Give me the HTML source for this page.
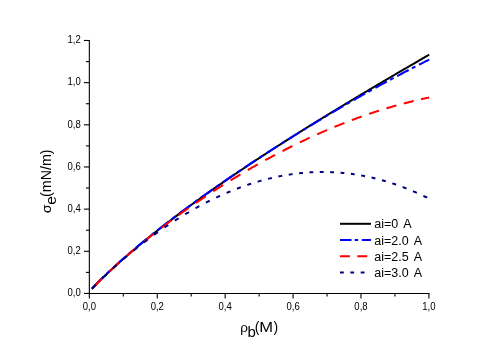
<!DOCTYPE html>
<html><head><meta charset="utf-8"><style>
html,body{margin:0;padding:0;background:#fff;}
svg{display:block;will-change:transform;font-family:"Liberation Sans",sans-serif;}
</style></head><body>
<svg width="498" height="352" viewBox="0 0 498 352">
<rect width="498" height="352" fill="#fff"/>
<g fill="none" stroke-width="2" stroke-linecap="butt" stroke-linejoin="round">
<path d="M92.00,288.73 L93.00,287.66 L94.00,286.62 L94.99,285.58 L95.99,284.55 L96.99,283.54 L97.99,282.53 L98.98,281.53 L99.98,280.53 L100.98,279.55 L101.98,278.57 L102.97,277.60 L103.97,276.63 L104.97,275.67 L105.97,274.72 L106.96,273.77 L107.96,272.82 L108.96,271.89 L109.96,270.95 L110.96,270.02 L111.95,269.10 L112.95,268.18 L113.95,267.27 L114.95,266.35 L115.94,265.45 L116.94,264.55 L117.94,263.65 L118.94,262.75 L119.93,261.86 L120.93,260.97 L121.93,260.09 L122.93,259.21 L123.92,258.33 L124.92,257.46 L125.92,256.59 L126.92,255.73 L127.91,254.86 L128.91,254.00 L129.91,253.14 L130.91,252.29 L131.91,251.44 L132.90,250.59 L133.90,249.75 L134.90,248.90 L135.90,248.07 L136.89,247.23 L137.89,246.39 L138.89,245.56 L139.89,244.73 L140.88,243.91 L141.88,243.09 L142.88,242.26 L143.88,241.45 L144.87,240.63 L145.87,239.82 L146.87,239.01 L147.87,238.20 L148.87,237.39 L149.86,236.59 L150.86,235.78 L151.86,234.98 L152.86,234.19 L153.85,233.39 L154.85,232.60 L155.85,231.81 L156.85,231.02 L157.84,230.23 L158.84,229.45 L159.84,228.66 L160.84,227.88 L161.83,227.10 L162.83,226.33 L163.83,225.55 L164.83,224.78 L165.82,224.01 L166.82,223.24 L167.82,222.47 L168.82,221.70 L169.82,220.94 L170.81,220.18 L171.81,219.42 L172.81,218.66 L173.81,217.90 L174.80,217.15 L175.80,216.39 L176.80,215.64 L177.80,214.89 L178.79,214.14 L179.79,213.40 L180.79,212.65 L181.79,211.91 L182.78,211.17 L183.78,210.42 L184.78,209.69 L185.78,208.95 L186.78,208.21 L187.77,207.48 L188.77,206.74 L189.77,206.01 L190.77,205.28 L191.76,204.55 L192.76,203.83 L193.76,203.10 L194.76,202.38 L195.75,201.66 L196.75,200.93 L197.75,200.21 L198.75,199.49 L199.74,198.78 L200.74,198.06 L201.74,197.35 L202.74,196.63 L203.73,195.92 L204.73,195.21 L205.73,194.50 L206.73,193.79 L207.73,193.08 L208.72,192.38 L209.72,191.67 L210.72,190.97 L211.72,190.27 L212.71,189.57 L213.71,188.87 L214.71,188.17 L215.71,187.47 L216.70,186.78 L217.70,186.08 L218.70,185.39 L219.70,184.69 L220.69,184.00 L221.69,183.31 L222.69,182.62 L223.69,181.93 L224.69,181.25 L225.68,180.56 L226.68,179.88 L227.68,179.19 L228.68,178.51 L229.67,177.83 L230.67,177.14 L231.67,176.46 L232.67,175.79 L233.66,175.11 L234.66,174.43 L235.66,173.76 L236.66,173.08 L237.65,172.41 L238.65,171.73 L239.65,171.06 L240.65,170.39 L241.64,169.72 L242.64,169.05 L243.64,168.38 L244.64,167.72 L245.64,167.05 L246.63,166.38 L247.63,165.72 L248.63,165.05 L249.63,164.39 L250.62,163.73 L251.62,163.07 L252.62,162.41 L253.62,161.75 L254.61,161.09 L255.61,160.43 L256.61,159.78 L257.61,159.12 L258.60,158.47 L259.60,157.81 L260.60,157.16 L261.60,156.51 L262.60,155.85 L263.59,155.20 L264.59,154.55 L265.59,153.90 L266.59,153.25 L267.58,152.61 L268.58,151.96 L269.58,151.31 L270.58,150.67 L271.57,150.02 L272.57,149.38 L273.57,148.73 L274.57,148.09 L275.56,147.45 L276.56,146.81 L277.56,146.17 L278.56,145.53 L279.56,144.89 L280.55,144.25 L281.55,143.61 L282.55,142.98 L283.55,142.34 L284.54,141.71 L285.54,141.07 L286.54,140.44 L287.54,139.80 L288.53,139.17 L289.53,138.54 L290.53,137.91 L291.53,137.28 L292.52,136.64 L293.52,136.02 L294.52,135.39 L295.52,134.76 L296.51,134.13 L297.51,133.50 L298.51,132.88 L299.51,132.25 L300.51,131.63 L301.50,131.00 L302.50,130.38 L303.50,129.75 L304.50,129.13 L305.49,128.51 L306.49,127.89 L307.49,127.26 L308.49,126.64 L309.48,126.02 L310.48,125.40 L311.48,124.79 L312.48,124.17 L313.47,123.55 L314.47,122.93 L315.47,122.32 L316.47,121.70 L317.47,121.08 L318.46,120.47 L319.46,119.85 L320.46,119.24 L321.46,118.63 L322.45,118.01 L323.45,117.40 L324.45,116.79 L325.45,116.18 L326.44,115.57 L327.44,114.96 L328.44,114.35 L329.44,113.74 L330.43,113.13 L331.43,112.52 L332.43,111.91 L333.43,111.30 L334.42,110.70 L335.42,110.09 L336.42,109.48 L337.42,108.88 L338.42,108.27 L339.41,107.67 L340.41,107.06 L341.41,106.46 L342.41,105.85 L343.40,105.25 L344.40,104.65 L345.40,104.05 L346.40,103.44 L347.39,102.84 L348.39,102.24 L349.39,101.64 L350.39,101.04 L351.38,100.44 L352.38,99.84 L353.38,99.24 L354.38,98.64 L355.38,98.05 L356.37,97.45 L357.37,96.85 L358.37,96.25 L359.37,95.66 L360.36,95.06 L361.36,94.46 L362.36,93.87 L363.36,93.27 L364.35,92.68 L365.35,92.08 L366.35,91.49 L367.35,90.90 L368.34,90.30 L369.34,89.71 L370.34,89.12 L371.34,88.53 L372.33,87.93 L373.33,87.34 L374.33,86.75 L375.33,86.16 L376.33,85.57 L377.32,84.98 L378.32,84.39 L379.32,83.80 L380.32,83.21 L381.31,82.62 L382.31,82.03 L383.31,81.44 L384.31,80.86 L385.30,80.27 L386.30,79.68 L387.30,79.09 L388.30,78.51 L389.29,77.92 L390.29,77.33 L391.29,76.75 L392.29,76.16 L393.29,75.58 L394.28,74.99 L395.28,74.41 L396.28,73.82 L397.28,73.24 L398.27,72.66 L399.27,72.07 L400.27,71.49 L401.27,70.90 L402.26,70.32 L403.26,69.74 L404.26,69.16 L405.26,68.57 L406.25,67.99 L407.25,67.41 L408.25,66.83 L409.25,66.25 L410.24,65.67 L411.24,65.09 L412.24,64.51 L413.24,63.93 L414.24,63.35 L415.23,62.77 L416.23,62.19 L417.23,61.61 L418.23,61.03 L419.22,60.45 L420.22,59.87 L421.22,59.29 L422.22,58.72 L423.21,58.14 L424.21,57.56 L425.21,56.98 L426.21,56.40 L427.20,55.83 L428.20,55.25 L429.20,54.67" stroke="#000"/>
<path d="M92.00,288.43 L92.96,287.41 L93.92,286.40 L94.88,285.40 L95.83,284.41 L96.79,283.43 L97.75,282.46 L98.71,281.50 L99.67,280.55 L100.62,279.60 L101.58,278.65 L102.54,277.72 L103.50,276.79M106.70,273.72 L107.58,272.89 L108.45,272.06 L109.33,271.24 L110.20,270.43M113.80,267.10 L114.76,266.23 L115.72,265.35 L116.67,264.49 L117.63,263.62 L118.59,262.76 L119.55,261.90 L120.51,261.05 L121.47,260.20 L122.42,259.35 L123.38,258.51 L124.34,257.67 L125.30,256.83M128.50,254.06 L129.38,253.30 L130.25,252.55 L131.12,251.81 L132.00,251.06M135.60,248.01 L136.56,247.21 L137.52,246.41 L138.47,245.61 L139.43,244.81 L140.39,244.02 L141.35,243.22 L142.31,242.43 L143.27,241.65 L144.22,240.86 L145.18,240.08 L146.14,239.30 L147.10,238.52M150.30,235.93 L151.17,235.23 L152.05,234.53 L152.92,233.83 L153.80,233.13M157.40,230.28 L158.36,229.53 L159.32,228.77 L160.28,228.02 L161.23,227.27 L162.19,226.53 L163.15,225.78 L164.11,225.04 L165.07,224.29 L166.03,223.55 L166.98,222.81 L167.94,222.08 L168.90,221.34M172.10,218.90 L172.97,218.23 L173.85,217.57 L174.72,216.91 L175.60,216.25M179.20,213.54 L180.16,212.83 L181.12,212.11 L182.07,211.40 L183.03,210.68 L183.99,209.97 L184.95,209.26 L185.91,208.56 L186.87,207.85 L187.82,207.15 L188.78,206.44 L189.74,205.74 L190.70,205.04M193.90,202.71 L194.77,202.07 L195.65,201.44 L196.52,200.81 L197.40,200.17M201.00,197.59 L201.96,196.90 L202.92,196.22 L203.88,195.53 L204.83,194.85 L205.79,194.17 L206.75,193.49 L207.71,192.81 L208.67,192.14 L209.62,191.46 L210.58,190.78 L211.54,190.11 L212.50,189.44M215.70,187.20 L216.57,186.59 L217.45,185.98 L218.32,185.37 L219.20,184.77M222.80,182.28 L223.76,181.62 L224.72,180.96 L225.68,180.30 L226.63,179.64 L227.59,178.99 L228.55,178.33 L229.51,177.68 L230.47,177.03 L231.43,176.37 L232.38,175.72 L233.34,175.07 L234.30,174.42M237.50,172.27 L238.38,171.68 L239.25,171.09 L240.12,170.50 L241.00,169.92M244.60,167.51 L245.56,166.87 L246.52,166.24 L247.47,165.60 L248.43,164.97 L249.39,164.33 L250.35,163.70 L251.31,163.07 L252.27,162.43 L253.23,161.80 L254.18,161.17 L255.14,160.55 L256.10,159.92M259.30,157.83 L260.18,157.26 L261.05,156.69 L261.93,156.12 L262.80,155.55M266.40,153.22 L267.36,152.60 L268.32,151.99 L269.27,151.37 L270.23,150.75 L271.19,150.14 L272.15,149.52 L273.11,148.91 L274.07,148.30 L275.02,147.69 L275.98,147.08 L276.94,146.47 L277.90,145.86M281.10,143.83 L281.97,143.27 L282.85,142.72 L283.72,142.17 L284.60,141.62M288.20,139.36 L289.16,138.76 L290.12,138.16 L291.08,137.56 L292.03,136.96 L292.99,136.36 L293.95,135.77 L294.91,135.17 L295.87,134.58 L296.83,133.98 L297.78,133.39 L298.74,132.80 L299.70,132.21M302.90,130.24 L303.78,129.70 L304.65,129.16 L305.53,128.63 L306.40,128.09M310.00,125.89 L310.96,125.31 L311.92,124.73 L312.88,124.15 L313.83,123.57 L314.79,122.99 L315.75,122.41 L316.71,121.83 L317.67,121.25 L318.62,120.67 L319.58,120.10 L320.54,119.52 L321.50,118.95M324.70,117.03 L325.57,116.51 L326.45,115.99 L327.32,115.47 L328.20,114.95M331.80,112.81 L332.76,112.25 L333.72,111.68 L334.68,111.12 L335.63,110.56 L336.59,109.99 L337.55,109.43 L338.51,108.87 L339.47,108.31 L340.43,107.75 L341.38,107.19 L342.34,106.63 L343.30,106.07M346.50,104.22 L347.38,103.71 L348.25,103.20 L349.12,102.70 L350.00,102.20M353.60,100.13 L354.56,99.58 L355.52,99.03 L356.48,98.49 L357.43,97.94 L358.39,97.39 L359.35,96.85 L360.31,96.31 L361.27,95.76 L362.23,95.22 L363.18,94.68 L364.14,94.14 L365.10,93.60M368.30,91.80 L369.18,91.32 L370.05,90.83 L370.93,90.34 L371.80,89.85M375.40,87.85 L376.36,87.33 L377.32,86.80 L378.28,86.27 L379.23,85.74 L380.19,85.22 L381.15,84.69 L382.11,84.17 L383.07,83.64 L384.03,83.12 L384.98,82.60 L385.94,82.08 L386.90,81.56M390.10,79.83 L390.98,79.36 L391.85,78.89 L392.73,78.42 L393.60,77.95M397.20,76.03 L398.16,75.52 L399.12,75.02 L400.07,74.51 L401.03,74.01 L401.99,73.50 L402.95,73.00 L403.91,72.49 L404.87,71.99 L405.82,71.49 L406.78,70.99 L407.74,70.50 L408.70,70.00M411.90,68.35 L412.77,67.90 L413.65,67.45 L414.52,67.00 L415.40,66.55M419.00,64.72 L419.93,64.25 L420.85,63.78 L421.78,63.32 L422.71,62.85 L423.64,62.39 L424.56,61.92 L425.49,61.46 L426.42,61.00 L427.35,60.54 L428.27,60.08 L429.20,59.62" stroke="#0000ff"/>
<path d="M92.00,288.73 L92.99,287.67 L93.98,286.63 L94.97,285.60 L95.96,284.58 L96.95,283.57 L97.94,282.57 L98.93,281.58 L99.92,280.60 L100.91,279.62 L101.90,278.65M109.32,271.56 L110.31,270.64 L111.30,269.72 L112.29,268.80 L113.28,267.89 L114.27,266.99 L115.26,266.09 L116.25,265.19 L117.24,264.30 L118.23,263.41 L119.22,262.53M126.64,256.03 L127.63,255.17 L128.62,254.33 L129.61,253.48 L130.60,252.64 L131.59,251.80 L132.58,250.96 L133.57,250.13 L134.56,249.30 L135.55,248.47 L136.54,247.65M143.96,241.57 L144.95,240.77 L145.94,239.97 L146.93,239.18 L147.92,238.39 L148.91,237.60 L149.90,236.81 L150.89,236.03 L151.88,235.25 L152.87,234.47 L153.86,233.70M161.28,227.97 L162.27,227.21 L163.26,226.46 L164.25,225.71 L165.24,224.96 L166.23,224.22 L167.22,223.48 L168.21,222.74 L169.20,222.00 L170.19,221.26 L171.18,220.53M178.60,215.10 L179.59,214.39 L180.58,213.68 L181.57,212.97 L182.56,212.26 L183.55,211.55 L184.54,210.85 L185.53,210.15 L186.52,209.45 L187.51,208.75 L188.50,208.06M195.92,202.91 L196.91,202.24 L197.90,201.56 L198.89,200.89 L199.88,200.22 L200.87,199.55 L201.86,198.88 L202.85,198.22 L203.84,197.55 L204.83,196.89 L205.82,196.23M213.24,191.35 L214.23,190.71 L215.22,190.07 L216.21,189.43 L217.20,188.80 L218.19,188.16 L219.18,187.53 L220.17,186.90 L221.16,186.27 L222.15,185.64 L223.14,185.02M230.56,180.40 L231.55,179.79 L232.54,179.18 L233.53,178.58 L234.52,177.97 L235.51,177.37 L236.50,176.77 L237.49,176.18 L238.48,175.58 L239.47,174.99 L240.46,174.40M247.88,170.03 L248.87,169.45 L249.86,168.88 L250.85,168.31 L251.84,167.74 L252.83,167.17 L253.82,166.60 L254.81,166.04 L255.80,165.48 L256.79,164.92 L257.78,164.36M265.20,160.24 L266.19,159.69 L267.18,159.15 L268.17,158.62 L269.16,158.08 L270.15,157.55 L271.14,157.01 L272.13,156.48 L273.12,155.95 L274.11,155.43 L275.10,154.90M282.52,151.03 L283.51,150.52 L284.50,150.01 L285.49,149.51 L286.48,149.00 L287.47,148.50 L288.46,148.00 L289.45,147.51 L290.44,147.01 L291.43,146.52 L292.42,146.02M299.84,142.40 L300.83,141.92 L301.82,141.45 L302.81,140.98 L303.80,140.51 L304.79,140.04 L305.78,139.58 L306.77,139.11 L307.76,138.65 L308.75,138.19 L309.74,137.73M317.16,134.36 L318.15,133.92 L319.14,133.48 L320.13,133.05 L321.12,132.61 L322.11,132.18 L323.10,131.74 L324.09,131.32 L325.08,130.89 L326.07,130.46 L327.06,130.04M334.48,126.93 L335.47,126.52 L336.46,126.11 L337.45,125.71 L338.44,125.31 L339.43,124.91 L340.42,124.52 L341.41,124.12 L342.40,123.73 L343.39,123.34 L344.38,122.95M351.80,120.10 L352.79,119.73 L353.78,119.36 L354.77,118.99 L355.76,118.63 L356.75,118.26 L357.74,117.90 L358.73,117.54 L359.72,117.19 L360.71,116.83 L361.70,116.48M369.12,113.90 L370.11,113.57 L371.10,113.23 L372.09,112.90 L373.08,112.57 L374.07,112.25 L375.06,111.92 L376.05,111.60 L377.04,111.28 L378.03,110.96 L379.02,110.65M386.44,108.34 L387.43,108.05 L388.42,107.75 L389.41,107.46 L390.40,107.17 L391.39,106.88 L392.38,106.59 L393.37,106.30 L394.36,106.02 L395.35,105.74 L396.34,105.46M403.76,103.44 L404.75,103.19 L405.74,102.93 L406.73,102.67 L407.72,102.42 L408.71,102.17 L409.70,101.92 L410.69,101.67 L411.68,101.43 L412.67,101.19 L413.66,100.95M421.08,99.22 L421.98,99.02 L422.88,98.82 L423.79,98.63 L424.69,98.43 L425.59,98.24 L426.49,98.04 L427.40,97.86 L428.30,97.67 L429.20,97.48" stroke="#ff0000"/>
<path d="M92.00,288.73 L92.95,287.72 L93.90,286.72 L94.85,285.73 L95.80,284.75M102.36,278.22 L103.31,277.30 L104.25,276.39 L105.20,275.48 L106.16,274.58M112.71,268.50 L113.66,267.64 L114.61,266.78 L115.56,265.93 L116.51,265.08M123.06,259.36 L124.02,258.54 L124.97,257.74 L125.91,256.93 L126.86,256.13M133.42,250.72 L134.37,249.95 L135.32,249.19 L136.27,248.42 L137.22,247.67M143.78,242.55 L144.73,241.82 L145.68,241.09 L146.62,240.38 L147.58,239.66M154.13,234.82 L155.08,234.13 L156.03,233.45 L156.98,232.77 L157.93,232.09M164.49,227.53 L165.44,226.88 L166.39,226.24 L167.34,225.60 L168.29,224.96M174.84,220.67 L175.79,220.06 L176.74,219.46 L177.69,218.86 L178.64,218.26M185.19,214.24 L186.14,213.67 L187.09,213.11 L188.05,212.55 L189.00,211.99M195.55,208.25 L196.50,207.72 L197.45,207.20 L198.40,206.68 L199.35,206.16M205.91,202.69 L206.86,202.21 L207.81,201.72 L208.75,201.24 L209.71,200.77M216.26,197.58 L217.21,197.13 L218.16,196.69 L219.11,196.25 L220.06,195.82M226.62,192.92 L227.56,192.51 L228.52,192.11 L229.47,191.71 L230.42,191.32M236.97,188.71 L237.92,188.34 L238.87,187.98 L239.82,187.63 L240.77,187.28M247.33,184.96 L248.28,184.63 L249.23,184.32 L250.18,184.00 L251.13,183.70M257.68,181.67 L258.63,181.39 L259.58,181.12 L260.53,180.85 L261.48,180.58M268.03,178.85 L268.98,178.62 L269.93,178.39 L270.88,178.16 L271.83,177.94M278.39,176.51 L279.34,176.32 L280.29,176.14 L281.24,175.95 L282.19,175.78M288.75,174.65 L289.69,174.51 L290.64,174.37 L291.60,174.23 L292.55,174.09M299.10,173.28 L300.05,173.18 L301.00,173.08 L301.95,172.99 L302.90,172.90M309.46,172.40 L310.41,172.34 L311.36,172.29 L312.31,172.24 L313.26,172.20M319.81,172.01 L320.76,172.00 L321.71,171.99 L322.66,171.99 L323.61,171.99M330.17,172.12 L331.12,172.15 L332.07,172.19 L333.02,172.24 L333.97,172.28M340.52,172.73 L341.47,172.81 L342.42,172.89 L343.37,172.98 L344.32,173.08M350.88,173.84 L351.82,173.97 L352.77,174.10 L353.73,174.23 L354.68,174.37M361.23,175.46 L362.18,175.63 L363.13,175.81 L364.08,175.99 L365.03,176.18M371.59,177.58 L372.54,177.80 L373.49,178.03 L374.44,178.26 L375.39,178.49M381.94,180.22 L382.89,180.48 L383.84,180.75 L384.79,181.03 L385.74,181.31M392.30,183.36 L393.25,183.67 L394.20,183.99 L395.15,184.31 L396.10,184.64M402.65,187.01 L403.60,187.37 L404.55,187.74 L405.50,188.10 L406.45,188.48M413.00,191.17 L413.95,191.58 L414.90,191.99 L415.86,192.40 L416.81,192.82M423.36,195.84 L424.31,196.29 L425.26,196.75 L426.21,197.21 L427.16,197.68" stroke="#000080"/>
</g>
<g stroke="#000" stroke-width="1.1">
<line x1="89.35" y1="39.94" x2="89.35" y2="294.00"/>
<line x1="88.80" y1="293.45" x2="429.45" y2="293.45"/>
<line x1="89.35" y1="293.45" x2="89.35" y2="298.6"/><line x1="123.31" y1="293.45" x2="123.31" y2="296.6"/><line x1="157.26" y1="293.45" x2="157.26" y2="298.6"/><line x1="191.22" y1="293.45" x2="191.22" y2="296.6"/><line x1="225.17" y1="293.45" x2="225.17" y2="298.6"/><line x1="259.12" y1="293.45" x2="259.12" y2="296.6"/><line x1="293.08" y1="293.45" x2="293.08" y2="298.6"/><line x1="327.04" y1="293.45" x2="327.04" y2="296.6"/><line x1="360.99" y1="293.45" x2="360.99" y2="298.6"/><line x1="394.95" y1="293.45" x2="394.95" y2="296.6"/><line x1="428.90" y1="293.45" x2="428.90" y2="298.6"/><line x1="83.9" y1="293.45" x2="89.35" y2="293.45"/><line x1="85.9" y1="272.37" x2="89.35" y2="272.37"/><line x1="83.9" y1="251.29" x2="89.35" y2="251.29"/><line x1="85.9" y1="230.21" x2="89.35" y2="230.21"/><line x1="83.9" y1="209.13" x2="89.35" y2="209.13"/><line x1="85.9" y1="188.05" x2="89.35" y2="188.05"/><line x1="83.9" y1="166.97" x2="89.35" y2="166.97"/><line x1="85.9" y1="145.89" x2="89.35" y2="145.89"/><line x1="83.9" y1="124.81" x2="89.35" y2="124.81"/><line x1="85.9" y1="103.73" x2="89.35" y2="103.73"/><line x1="83.9" y1="82.65" x2="89.35" y2="82.65"/><line x1="85.9" y1="61.57" x2="89.35" y2="61.57"/><line x1="83.9" y1="40.49" x2="89.35" y2="40.49"/>
</g>
<g font-size="10" fill="#000"><text transform="translate(89.35,309.5) scale(0.955,1)" text-anchor="middle">0,0</text><text transform="translate(157.26,309.5) scale(0.955,1)" text-anchor="middle">0,2</text><text transform="translate(225.17,309.5) scale(0.955,1)" text-anchor="middle">0,4</text><text transform="translate(293.08,309.5) scale(0.955,1)" text-anchor="middle">0,6</text><text transform="translate(360.99,309.5) scale(0.955,1)" text-anchor="middle">0,8</text><text transform="translate(428.90,309.5) scale(0.955,1)" text-anchor="middle">1,0</text><text transform="translate(80.7,296.20) scale(0.955,1)" text-anchor="end">0,0</text><text transform="translate(80.7,254.04) scale(0.955,1)" text-anchor="end">0,2</text><text transform="translate(80.7,211.88) scale(0.955,1)" text-anchor="end">0,4</text><text transform="translate(80.7,169.72) scale(0.955,1)" text-anchor="end">0,6</text><text transform="translate(80.7,127.56) scale(0.955,1)" text-anchor="end">0,8</text><text transform="translate(80.7,85.40) scale(0.955,1)" text-anchor="end">1,0</text><text transform="translate(80.7,43.24) scale(0.955,1)" text-anchor="end">1,2</text></g>
<g fill="none" stroke-width="2">
<path d="M340,223.8 L371,223.8" stroke="#000"/>
<path d="M340.00,240.00 L351.50,240.00M354.70,240.00 L358.20,240.00M361.80,240.00 L371.00,240.00" stroke="#0000ff"/>
<path d="M340.00,256.20 L349.90,256.20M357.32,256.20 L367.22,256.20" stroke="#ff0000"/>
<path d="M340.00,272.40 L343.80,272.40M350.36,272.40 L354.16,272.40M360.71,272.40 L364.51,272.40" stroke="#000080"/>
</g>
<g font-size="12.5" fill="#000" word-spacing="2.4">
<text x="374.2" y="228.3">ai=0 A</text>
<text x="374.2" y="244.5">ai=2.0 A</text>
<text x="374.2" y="260.7">ai=2.5 A</text>
<text x="374.2" y="276.9">ai=3.0 A</text>
</g>
<g font-size="14" fill="#000">
<text x="240.3" y="331.8" font-size="13.5">ρ</text>
<text x="247.4" y="336.5" font-size="15">b</text>
<text x="254.8" y="331.8">(</text>
<text x="259.2" y="331.8" textLength="13.8" lengthAdjust="spacingAndGlyphs">M</text>
<text x="273.4" y="331.8">)</text>
<g transform="translate(51.3,213.2) rotate(-90)">
<text x="0" y="0" font-size="13.5" textLength="8.8" lengthAdjust="spacingAndGlyphs">σ</text>
<text x="8.5" y="4.6" font-size="15.5">e</text>
<text x="16.3" y="0" textLength="47.4" lengthAdjust="spacingAndGlyphs">(mN/m)</text>
</g>
</g>
</svg>
</body></html>
